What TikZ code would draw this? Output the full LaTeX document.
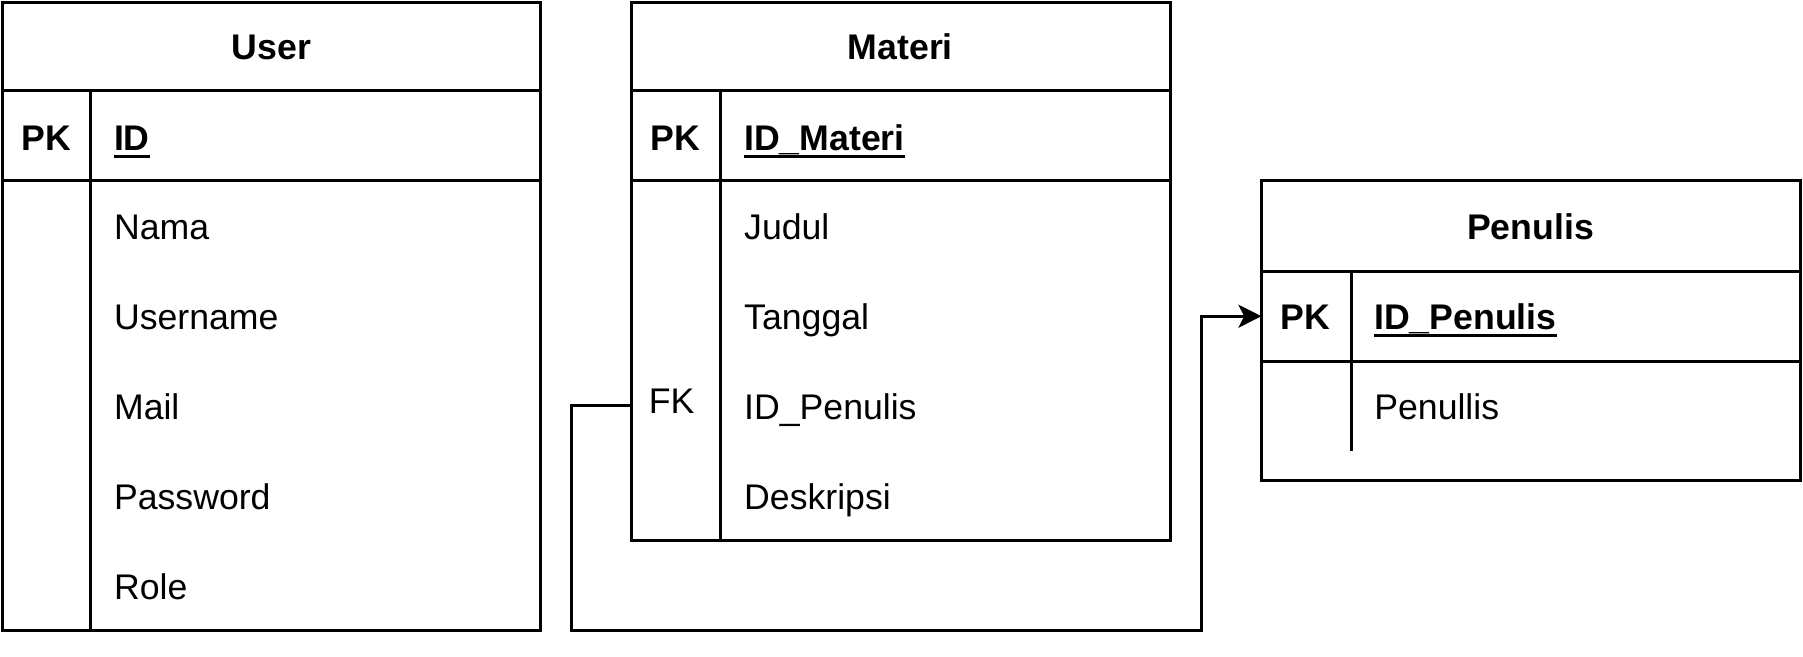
\documentclass[tikz,border=0pt]{standalone}
\usepackage{fontspec}
\setmainfont{Liberation Sans}
\usetikzlibrary{arrows.meta}
\begin{document}
\begin{tikzpicture}[x=1pt,y=-1pt,
  ln/.style={line width=2.6pt, line cap=rect},
  hdr/.style={font=\fontsize{31}{37}\selectfont\bfseries, inner sep=0pt},
  fld/.style={font=\fontsize{31}{37}\selectfont, inner sep=0pt, anchor=base west},
  key/.style={font=\fontsize{31}{37}\selectfont\bfseries, inner sep=0pt, anchor=base west},
  pk/.style={font=\fontsize{31}{37}\selectfont\bfseries, inner sep=0pt, anchor=base},
  fk/.style={font=\fontsize{31}{37}\selectfont, inner sep=0pt, anchor=base},
  uline/.style={line width=2.8pt},
  conn/.style={line width=2.6pt, -{Stealth[length=20pt,width=20pt,inset=5pt]}}
]
\useasboundingbox (0,0) rectangle (1568,571);

% ---------- User ----------
\draw[ln] (2,2) rectangle (470,548);
\draw[ln] (2,79) -- (470,79);
\draw[ln] (2,157) -- (470,157);
\draw[ln] (79,79) -- (79,548);
\node[hdr] (userh) at (236,41) {User};
\node[pk] (userpk) at (40.5,130.5) {PK};
\node[key] (userid) at (99,130.5) {ID};
\draw[uline] ([yshift=-5.5pt]userid.base west) -- ([yshift=-5.5pt]userid.base east);
\node[fld] (u1) at (99,208.5) {Nama};
\node[fld] (u2) at (99,286.5) {Username};
\node[fld] (u3) at (99,364.5) {Mail};
\node[fld] (u4) at (99,443) {Password};
\node[fld] (u5) at (99,521) {Role};

% ---------- Materi ----------
\draw[ln] (549,2) rectangle (1018,470);
\draw[ln] (549,79) -- (1018,79);
\draw[ln] (549,157) -- (1018,157);
\draw[ln] (627,79) -- (627,470);
\node[hdr] (materih) at (783,41) {Materi};
\node[pk] (materipk) at (587.5,130.5) {PK};
\node[key] (materiid) at (647,130.5) {ID\_Materi};
\draw[uline] ([yshift=-5.5pt]materiid.base west) -- ([yshift=-5.5pt]materiid.base east);
\node[fld] (m1) at (647,208.5) {Judul};
\node[fld] (m2) at (647,286.5) {Tanggal};
\node[fld] (m3) at (647,364.5) {ID\_Penulis};
\node[fld] (m4) at (647,443) {Deskripsi};
\node[fk] (materifk) at (584,360) {FK};
\coordinate (mleft) at (549,353);

% ---------- Penulis ----------
\draw[ln] (1097,157) rectangle (1566,418);
\draw[ln] (1097,236) -- (1566,236);
\draw[ln] (1097,314) -- (1566,314);
\draw[ln, line cap=butt] (1175,236) -- (1175,392);
\node[hdr] (penh) at (1331,197) {Penulis};
\node[pk] (penpk) at (1135.5,286.5) {PK};
\node[key] (penid) at (1195,286.5) {ID\_Penulis};
\draw[uline] ([yshift=-5.5pt]penid.base west) -- ([yshift=-5.5pt]penid.base east);
\node[fld] (p1) at (1195,364.5) {Penullis};
\coordinate (pleft) at (1097,275);

% ---------- Connector ----------
\draw[conn] (mleft) -- (497,353) -- (497,548) -- (1045,548) -- (1045,275) -- (pleft);
\end{tikzpicture}
\end{document}
